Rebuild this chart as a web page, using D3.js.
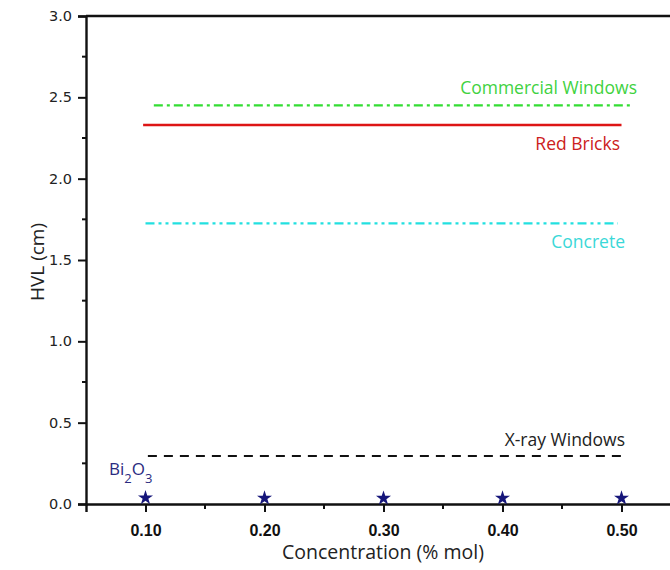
<!DOCTYPE html>
<html>
<head>
<meta charset="utf-8">
<script src="https://cdn.jsdelivr.net/npm/d3@7"></script>
<style>
	body { margin: 0; background: #fff; }
	text { font-family: "Open Sans", "Noto Sans", sans-serif; }
</style>
</head>
<body>
<script>
// reference lines of other shielding materials (HVL, cm)
var refNames = ['Commercial Windows', 'Red Bricks', 'Concrete', 'X-ray Windows'];
var refValues = [2.45, 2.33, 1.725, 0.295];
var refStart = [0.107, 0.098, 0.1, 0.102];
var refEnd = [0.507, 0.5, 0.497, 0.503];

// glass samples
var concentrations = [0.10, 0.20, 0.30, 0.40, 0.50];
var hvlBi2O3 = [0.038, 0.036, 0.035, 0.036, 0.036];

var xTicks = [0.10, 0.20, 0.30, 0.40, 0.50];
var yTicks = [0.0, 0.5, 1.0, 1.5, 2.0, 2.5, 3.0];

var W = 670, H = 570;
var svg = d3.select('body').append('svg')
	.attr('width', W)
	.attr('height', H);

var x = d3.scaleLinear().domain([0.05, 0.55]).range([86, 681]);
var y = d3.scaleLinear().domain([0, 3]).range([504, 16]);

var styles = [
	{ color: '#33dd33', label: '#3fd23f', dash: '9,4,3,4', width: 2.2 },
	{ color: '#dd1515', label: '#cc2020', dash: null, width: 2.4 },
	{ color: '#22e0e0', label: '#3ad8d8', dash: '9,4,3,4,3,4', width: 2.2 },
	{ color: '#111111', label: '#222222', dash: '9,7', width: 2.2 }
];
var labelPos = [
	{ x: 637, dy: -11 },
	{ x: 620, dy: 25 },
	{ x: 625, dy: 25 },
	{ x: 625, dy: -10 }
];

// minor ticks
var g = svg.append('g');
g.selectAll('.yminor')
	.data(d3.range(0.25, 3, 0.5)).enter()
	.append('line')
	.attr('x1', 86).attr('x2', 82)
	.attr('y1', function(d){ return y(d); })
	.attr('y2', function(d){ return y(d); })
	.attr('stroke', '#111').attr('stroke-width', 2);
g.selectAll('.xminor')
	.data([0.15, 0.25, 0.35, 0.45, 0.55]).enter()
	.append('line')
	.attr('x1', function(d){ return x(d); })
	.attr('x2', function(d){ return x(d); })
	.attr('y1', 504).attr('y2', 509)
	.attr('stroke', '#111').attr('stroke-width', 2);

// y axis
var yAxis = svg.append('g')
	.attr('transform', 'translate(86,0)')
	.call(d3.axisLeft(y).tickValues(yTicks).tickFormat(d3.format('.1f')).tickSize(8).tickPadding(6));
yAxis.selectAll('text')
	.style('font-family', '"DejaVu Sans", Verdana, sans-serif')
	.style('font-size', '14.5px')
	.attr('fill', '#222');

// x axis
var xAxis = svg.append('g')
	.attr('transform', 'translate(0,504)')
	.call(d3.axisBottom(x).tickValues(xTicks).tickFormat(d3.format('.2f')).tickSize(8).tickPadding(13));
xAxis.selectAll('text')
	.style('font-family', '"Liberation Sans", Arial, sans-serif')
	.style('font-size', '16px')
	.style('font-weight', 'bold')
	.attr('fill', '#111');

svg.selectAll('.domain').attr('stroke', '#111').attr('stroke-width', 2.4);
svg.selectAll('.tick line').attr('stroke', '#111').attr('stroke-width', 2);

// top frame line
svg.append('line')
	.attr('x1', x(0.05)).attr('x2', W)
	.attr('y1', y(3)).attr('y2', y(3))
	.attr('stroke', '#111').attr('stroke-width', 2.4);

// reference lines
refNames.forEach(function(name, i){
	var s = styles[i];
	var line = svg.append('line')
		.attr('x1', x(refStart[i])).attr('x2', x(refEnd[i]))
		.attr('y1', y(refValues[i])).attr('y2', y(refValues[i]))
		.attr('stroke', s.color)
		.attr('stroke-width', s.width);
	if (s.dash) line.attr('stroke-dasharray', s.dash);
	svg.append('text')
		.attr('x', labelPos[i].x)
		.attr('y', y(refValues[i]) + labelPos[i].dy)
		.attr('text-anchor', 'end')
		.attr('fill', s.label)
		.style('font-size', '17.5px')
		.text(name);
});

// Bi2O3 stars
svg.selectAll('.star')
	.data(concentrations).enter()
	.append('path')
	.attr('d', d3.symbol().type(d3.symbolStar).size(70))
	.attr('transform', function(d, i){ return 'translate(' + x(d) + ',' + y(hvlBi2O3[i]) + ')'; })
	.attr('fill', '#16167a');

var bi = svg.append('text')
	.attr('x', 109).attr('y', 475)
	.attr('fill', '#2a2a80')
	.style('font-size', '17px');
bi.append('tspan').text('Bi');
bi.append('tspan').attr('dy', 8).style('font-size', '13px').text('2');
bi.append('tspan').attr('dy', -8).text('O');
bi.append('tspan').attr('dy', 8).style('font-size', '13px').text('3');

// axis titles
svg.append('text')
	.attr('transform', 'translate(44,262) rotate(-90)')
	.attr('text-anchor', 'middle')
	.attr('fill', '#222')
	.style('font-size', '19px')
	.text('HVL (cm)');
svg.append('text')
	.attr('x', 383).attr('y', 559)
	.attr('text-anchor', 'middle')
	.attr('fill', '#222')
	.style('font-size', '19.5px')
	.text('Concentration (% mol)');
</script>
</body>
</html>
